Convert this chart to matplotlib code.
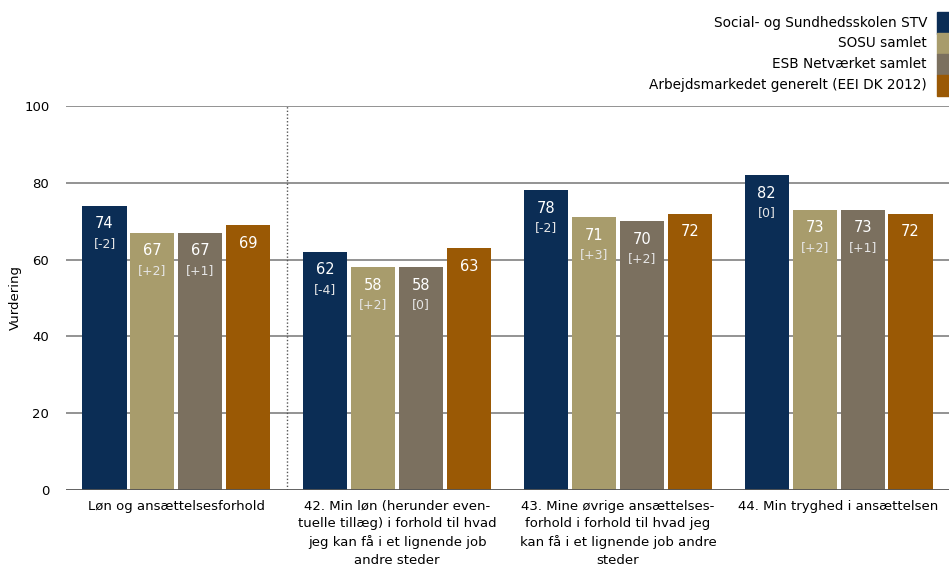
import matplotlib
matplotlib.use("Agg")
import matplotlib.pyplot as plt
from matplotlib.patches import Rectangle
import numpy as np

plt.rcParams['font.family'] = ['DejaVu Sans']

categories = [
    "Løn og ansættelsesforhold",
    "42. Min løn (herunder even-\ntuelle tillæg) i forhold til hvad\njeg kan få i et lignende job\nandre steder",
    "43. Mine øvrige ansættelses-\nforhold i forhold til hvad jeg\nkan få i et lignende job andre\nsteder",
    "44. Min tryghed i ansættelsen",
]
series_names = [
    "Social- og Sundhedsskolen STV",
    "SOSU samlet",
    "ESB Netværket samlet",
    "Arbejdsmarkedet generelt (EEI DK 2012)",
]
values = [
    [74, 62, 78, 82],
    [67, 58, 71, 73],
    [67, 58, 70, 73],
    [69, 63, 72, 72],
]
changes = [
    ["[-2]", "[-4]", "[-2]", "[0]"],
    ["[+2]", "[+2]", "[+3]", "[+2]"],
    ["[+1]", "[0]", "[+2]", "[+1]"],
    [None, None, None, None],
]
colors = ["#0b2d55", "#a89c6c", "#7b705f", "#9a5905"]

fig = plt.figure(figsize=(9.49, 5.70), dpi=100)
ax = fig.add_axes([66 / 949, 80 / 570, 883 / 949, 384 / 570])

x = np.arange(len(categories))
width = 0.2
step = 0.217
offsets = (np.arange(len(series_names)) - 1.5) * step

for gi in [20, 40, 60, 80, 100]:
    ax.axhline(gi, color="#808080", lw=1.2, zorder=0)
ax.axhline(0, color="#555555", lw=1.3, zorder=3)

for s, (name, vals, chg, col) in enumerate(zip(series_names, values, changes, colors)):
    ax.bar(x + offsets[s], vals, width, color=col, zorder=2, label=name)
    for xi, v, c in zip(x + offsets[s], vals, chg):
        ax.annotate(str(v), (xi, v), xytext=(0, -13), textcoords="offset points",
                    ha="center", va="center", color="white", fontsize=10.5, zorder=4)
        if c is not None:
            ax.annotate(c, (xi, v), xytext=(0, -27), textcoords="offset points",
                        ha="center", va="center", color="#e6e6e6", fontsize=9, zorder=4)

ax.axvline(0.5, color="#555555", lw=1.0, ls=(0, (1, 1.5)), zorder=1)

ax.set_xlim(-0.5, 3.5)
ax.set_ylim(0, 100)
ax.set_yticks([0, 20, 40, 60, 80, 100])
ax.set_xticks(x)
ax.set_xticklabels(categories, fontsize=9.5, linespacing=1.45)
ax.tick_params(axis="x", length=0, pad=7)
ax.tick_params(axis="y", length=0, pad=12, labelsize=9.5)
for sp in ax.spines.values():
    sp.set_visible(False)
ax.set_ylabel("Vurdering", fontsize=9.5)
ax.yaxis.set_label_coords(-0.05, 0.5)

# legend: right-aligned labels with swatches on the right edge
leg_rows = [23, 43, 64, 85]
for name, col, yp in zip(series_names, colors, leg_rows):
    fig.text(927 / 949, 1 - yp / 570, name, ha="right", va="center", fontsize=9.8)
    fig.patches.append(Rectangle(
        (937 / 949, 1 - (yp + 10.5) / 570), 12 / 949, 21 / 570,
        transform=fig.transFigure, color=col, figure=fig))

fig.savefig("out.png", dpi=100)
